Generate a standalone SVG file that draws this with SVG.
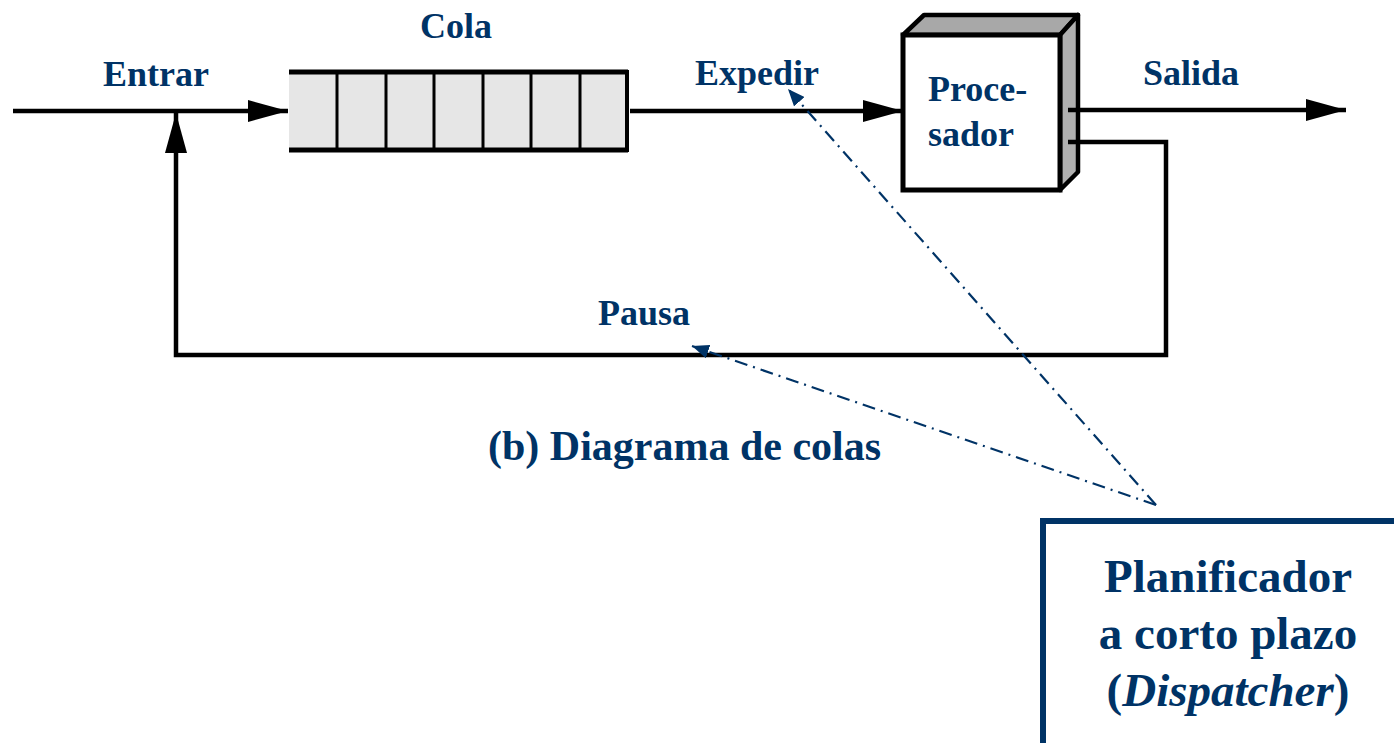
<svg xmlns="http://www.w3.org/2000/svg" width="1394" height="743" viewBox="0 0 1394 743">
<style>
.lbl{font-family:"Liberation Serif","Times New Roman",serif;font-weight:bold;fill:#003366;font-size:36px}
.wire{fill:none;stroke:#000;stroke-width:4.5}
.dd{fill:none;stroke:#003366;stroke-width:2.2;stroke-dasharray:13 6 2 6}
</style>
<defs>
<marker id="ah" markerUnits="userSpaceOnUse" markerWidth="42" markerHeight="24" refX="40" refY="12" orient="auto" viewBox="0 0 42 24">
<path d="M0,1 L40,12 L0,23 Z" fill="#000"/>
</marker>
<marker id="bh" markerUnits="userSpaceOnUse" markerWidth="18" markerHeight="14" refX="17" refY="7" orient="auto" viewBox="0 0 18 14">
<path d="M0,0 L17,7 L0,14 Z" fill="#003366"/>
</marker>
</defs>
<rect width="1394" height="743" fill="#fff"/>

<g id="queue">
<rect x="289" y="72" width="338" height="78" fill="#e6e6e6" stroke="none"/>
<line x1="289" y1="72" x2="628" y2="72" stroke="#000" stroke-width="5"/>
<line x1="289" y1="150" x2="628" y2="150" stroke="#000" stroke-width="5"/>
<line x1="627" y1="70" x2="627" y2="152" stroke="#000" stroke-width="4"/>
<g stroke="#000" stroke-width="3">
<line x1="337" y1="72" x2="337" y2="150"/>
<line x1="386" y1="72" x2="386" y2="150"/>
<line x1="434" y1="72" x2="434" y2="150"/>
<line x1="483" y1="72" x2="483" y2="150"/>
<line x1="531" y1="72" x2="531" y2="150"/>
<line x1="580" y1="72" x2="580" y2="150"/>
</g>
<text class="lbl" x="456" y="38" text-anchor="middle">Cola</text>
</g>

<g id="processor">
<polygon points="903,35 924,15 1078,15 1060,35" fill="#a8a8a8" stroke="#000" stroke-width="4.5" stroke-linejoin="round"/>
<polygon points="1060,35 1078,15 1078,172 1060,190" fill="#b0b0b0" stroke="#000" stroke-width="4.5" stroke-linejoin="round"/>
<rect x="903" y="35" width="157" height="155" fill="#fff" stroke="#000" stroke-width="5"/>
<text class="lbl" x="928" y="101">Proce-</text>
<text class="lbl" x="928" y="146">sador</text>
</g>

<g id="labels">
<text class="lbl" x="103" y="86">Entrar</text>
<text class="lbl" x="695" y="85">Expedir</text>
<text class="lbl" x="1143" y="85">Salida</text>
<text class="lbl" x="598" y="325">Pausa</text>
<text class="lbl" x="488" y="460" style="font-size:42px">(b) Diagrama de colas</text>
</g>

<g id="dispatcher">
<rect x="1043" y="521" width="400" height="300" fill="#fff" stroke="#003366" stroke-width="6"/>
<text class="lbl" x="1228" y="592" text-anchor="middle" style="font-size:47px">Planificador</text>
<text class="lbl" x="1228" y="649" text-anchor="middle" style="font-size:47px">a corto plazo</text>
<text class="lbl" x="1228" y="706" text-anchor="middle" style="font-size:47px">(<tspan font-style="italic">Dispatcher</tspan>)</text>
</g>

<g id="connectors">
<line class="wire" x1="13" y1="111" x2="288" y2="111" marker-end="url(#ah)"/>
<line class="wire" x1="630" y1="111" x2="903" y2="111" marker-end="url(#ah)"/>
<line class="wire" x1="1068" y1="110" x2="1346" y2="110" marker-end="url(#ah)"/>
<polyline class="wire" points="1068,142 1166,142 1166,355 176,355 176,113" marker-end="url(#ah)"/>
<line class="dd" x1="1156" y1="505" x2="788" y2="89" marker-end="url(#bh)"/>
<line class="dd" x1="1156" y1="505" x2="692" y2="346" marker-end="url(#bh)"/>
</g>
</svg>
